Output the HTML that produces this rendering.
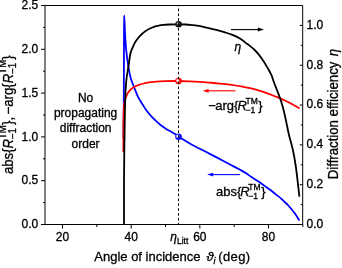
<!DOCTYPE html>
<html><head><meta charset="utf-8"><style>
html,body{margin:0;padding:0;background:#fff;width:342px;height:268px;overflow:hidden}
svg{display:block;will-change:transform}
text{font-family:"Liberation Sans",sans-serif;fill:#000;stroke:#000;stroke-width:0.3px}
</style></head><body>
<svg width="342" height="268" viewBox="0 0 342 268" xmlns="http://www.w3.org/2000/svg">
<defs>
<radialGradient id="gk" cx="0.38" cy="0.38" r="0.62"><stop offset="0" stop-color="#e8e8e8"/><stop offset="0.3" stop-color="#333"/><stop offset="1" stop-color="#000"/></radialGradient>
<radialGradient id="gr" cx="0.38" cy="0.42" r="0.62"><stop offset="0" stop-color="#fff"/><stop offset="0.25" stop-color="#fcc"/><stop offset="0.55" stop-color="#f00"/><stop offset="1" stop-color="#f00"/></radialGradient>
<radialGradient id="gb" cx="0.38" cy="0.42" r="0.62"><stop offset="0" stop-color="#fff"/><stop offset="0.25" stop-color="#ccf"/><stop offset="0.55" stop-color="#00f"/><stop offset="1" stop-color="#00f"/></radialGradient>
</defs>
<rect width="342" height="268" fill="#fff"/>
<g fill="none" stroke-linejoin="round" stroke-linecap="butt">
<path d="M123.50,138.00 C123.60,125.33 123.72,114.11 123.80,100.00 C123.90,82.27 123.91,55.59 124.00,40.00 C124.06,30.03 124.01,15.50 124.20,15.50 C124.34,15.50 124.60,23.88 124.80,28.00 C125.00,32.04 125.15,36.18 125.40,40.00 C125.63,43.49 125.80,46.24 126.20,50.00 C126.71,54.88 127.56,61.78 128.40,66.80 C129.09,70.92 129.85,74.90 130.70,78.00 C131.32,80.27 131.96,81.82 132.70,83.80 C133.49,85.91 134.38,88.08 135.30,90.30 C136.28,92.67 137.19,95.25 138.40,97.60 C139.62,99.95 141.27,102.27 142.60,104.40 C143.79,106.31 144.70,107.99 146.00,109.80 C147.43,111.79 149.23,113.95 150.90,115.80 C152.47,117.53 154.07,119.06 155.70,120.60 C157.30,122.12 158.94,123.67 160.60,125.00 C162.17,126.26 163.77,127.34 165.40,128.40 C167.00,129.44 168.67,130.36 170.30,131.30 C171.90,132.23 173.66,133.09 175.10,134.00 C176.35,134.79 177.20,135.52 178.50,136.40 C180.21,137.56 182.38,138.98 184.50,140.30 C186.82,141.75 189.37,143.31 191.90,144.70 C194.47,146.11 197.17,147.35 199.80,148.70 C202.44,150.05 205.07,151.43 207.70,152.80 C210.33,154.17 212.97,155.53 215.60,156.90 C218.23,158.27 220.87,159.62 223.50,161.00 C226.14,162.39 229.12,164.00 231.40,165.20 C233.14,166.12 234.39,166.75 236.00,167.60 C237.80,168.54 239.90,169.57 241.70,170.60 C243.39,171.57 244.90,172.55 246.50,173.60 C248.14,174.68 249.74,175.89 251.40,177.00 C253.07,178.12 254.77,179.17 256.50,180.30 C258.30,181.47 260.33,182.73 262.00,183.90 C263.46,184.92 264.63,185.90 266.00,186.90 C267.42,187.94 268.90,188.87 270.40,190.00 C272.06,191.25 273.77,192.72 275.50,194.10 C277.27,195.52 279.31,197.02 280.90,198.40 C282.25,199.57 283.29,200.64 284.50,201.80 C285.75,203.00 287.07,204.19 288.30,205.50 C289.57,206.85 290.75,208.24 292.00,209.80 C293.41,211.55 295.02,213.63 296.30,215.50 C297.46,217.19 298.37,218.83 299.40,220.50" stroke="#00f" stroke-width="1.8"/>
<path d="M123.40,152.00 C123.40,146.33 123.37,140.90 123.40,135.00 C123.43,128.60 123.42,120.68 123.60,115.00 C123.74,110.79 123.87,106.68 124.20,104.00 C124.39,102.43 124.60,101.40 124.90,100.30 C125.15,99.37 125.52,98.64 125.80,97.80 C126.08,96.97 126.24,96.15 126.60,95.30 C127.01,94.35 127.55,93.33 128.20,92.40 C128.90,91.40 129.76,90.39 130.70,89.50 C131.68,88.58 132.74,87.73 134.00,87.00 C135.43,86.17 137.25,85.49 138.90,84.90 C140.52,84.33 142.28,83.88 143.80,83.50 C145.11,83.17 146.00,82.95 147.50,82.70 C149.80,82.32 153.37,81.95 156.30,81.70 C159.20,81.45 161.78,81.32 165.00,81.20 C169.01,81.06 174.22,80.97 178.50,81.00 C182.38,81.02 185.96,81.15 189.60,81.30 C193.12,81.45 196.57,81.66 200.00,81.90 C203.37,82.13 206.68,82.42 210.00,82.70 C213.31,82.98 216.46,83.27 219.90,83.60 C223.66,83.96 227.79,84.25 231.70,84.80 C235.62,85.35 240.06,86.27 243.40,86.90 C245.92,87.37 247.86,87.74 250.00,88.20 C252.05,88.64 254.01,89.07 256.00,89.60 C258.01,90.14 259.90,90.69 262.00,91.40 C264.37,92.20 267.19,93.33 269.50,94.20 C271.48,94.95 273.19,95.61 275.00,96.30 C276.76,96.97 278.51,97.59 280.20,98.30 C281.84,98.99 283.42,99.74 285.00,100.50 C286.56,101.25 288.05,101.99 289.60,102.80 C291.22,103.65 292.86,104.57 294.50,105.50 C296.16,106.44 297.83,107.43 299.50,108.40" stroke="#f00" stroke-width="1.8"/>
<path d="M124.00,224.50 C124.00,211.33 123.95,197.77 124.00,185.00 C124.05,172.98 124.17,160.69 124.30,150.00 C124.41,140.97 124.57,132.53 124.70,125.00 C124.80,118.79 124.85,113.75 125.00,108.00 C125.15,102.09 125.29,95.39 125.60,90.00 C125.86,85.59 126.12,81.92 126.60,78.00 C127.06,74.19 127.76,70.76 128.40,66.80 C129.12,62.32 129.70,56.19 130.70,52.50 C131.36,50.06 132.20,48.42 133.00,46.60 C133.71,44.98 134.31,43.57 135.20,42.10 C136.15,40.53 137.43,38.90 138.60,37.50 C139.67,36.22 140.75,35.05 141.90,34.00 C142.99,33.00 144.09,32.15 145.30,31.30 C146.58,30.41 147.97,29.54 149.40,28.80 C150.86,28.04 152.44,27.34 154.00,26.80 C155.54,26.27 157.13,25.92 158.70,25.60 C160.26,25.29 161.75,25.08 163.40,24.90 C165.23,24.70 167.04,24.60 169.20,24.50 C171.91,24.38 175.48,24.29 178.40,24.30 C181.05,24.31 183.87,24.39 186.00,24.50 C187.55,24.58 188.41,24.64 190.00,24.80 C192.36,25.04 195.89,25.40 198.80,25.90 C201.72,26.40 204.59,27.14 207.50,27.80 C210.43,28.47 213.37,29.14 216.30,29.90 C219.24,30.67 222.30,31.53 225.10,32.40 C227.68,33.20 230.07,33.89 232.50,34.90 C235.00,35.94 237.49,37.13 239.90,38.60 C242.46,40.16 245.55,42.74 247.40,44.10 C248.49,44.90 249.02,45.23 250.00,46.00 C251.35,47.07 253.22,48.54 254.70,50.00 C256.22,51.50 257.60,53.15 259.00,54.90 C260.50,56.77 261.97,58.75 263.40,60.90 C264.95,63.23 266.52,65.96 267.90,68.40 C269.17,70.65 270.39,72.69 271.40,75.00 C272.44,77.38 273.08,80.02 274.00,82.50 C274.92,84.98 275.93,87.39 276.90,89.90 C277.90,92.49 278.97,95.13 279.90,97.80 C280.84,100.49 281.68,103.12 282.50,106.00 C283.39,109.15 284.11,112.13 285.00,116.00 C286.22,121.32 287.60,129.06 289.00,135.00 C290.25,140.31 291.80,144.98 292.90,150.00 C293.99,154.98 294.83,159.99 295.60,165.00 C296.36,169.99 296.88,174.87 297.50,180.00 C298.15,185.39 298.77,191.07 299.40,196.60" stroke="#000" stroke-width="1.8"/>
</g>
<circle cx="178.54" cy="24.3" r="3.3" fill="url(#gk)"/>
<circle cx="178.54" cy="81.1" r="3.3" fill="url(#gr)"/>
<circle cx="178.54" cy="136.7" r="3.3" fill="url(#gb)"/>
<path d="M178.54,5.5V224.5" stroke="#000" stroke-width="1" stroke-dasharray="2.7 2.17" stroke-dashoffset="1.87" fill="none"/>
<path d="M45.0,5.5H302.7V224.5H45.0Z" fill="none" stroke="#000" stroke-width="1"/>
<path d="M41.00,224.50H45.0M41.00,180.70H45.0M41.00,136.90H45.0M41.00,93.10H45.0M41.00,49.30H45.0M41.00,5.50H45.0M43.00,202.60H45.0M43.00,158.80H45.0M43.00,115.00H45.0M43.00,71.20H45.0M43.00,27.40H45.0M62.50,224.5V228.5M131.16,224.5V228.5M199.83,224.5V228.5M268.49,224.5V228.5M96.83,224.5V227.0M165.50,224.5V227.0M234.16,224.5V227.0M302.83,224.5V227.0M299.70,224.50H302.7M299.70,184.68H302.7M299.70,144.86H302.7M299.70,105.05H302.7M299.70,65.23H302.7M299.70,25.41H302.7M300.70,204.59H302.7M300.70,164.77H302.7M300.70,124.95H302.7M300.70,85.14H302.7M300.70,45.32H302.7" fill="none" stroke="#000" stroke-width="1"/>
<!-- arrows -->
<path d="M231,29.6H259" stroke="#000" stroke-width="1.1"/><path d="M264,29.6L257.8,27.6L257.8,31.6Z" fill="#000"/>
<path d="M208,90.8H235.5" stroke="#f00" stroke-width="1.1"/><path d="M202.6,90.8L208.6,88.9L208.6,92.7Z" fill="#f00"/>
<path d="M212,174.6H240" stroke="#00f" stroke-width="1.1"/><path d="M207.1,174.6L213.1,172.7L213.1,176.5Z" fill="#00f"/>
<!-- tick labels -->
<text transform="translate(38.20,9.10) scale(1,1.04)" font-size="12" text-anchor="end">2.5</text>
<text transform="translate(38.20,52.90) scale(1,1.04)" font-size="12" text-anchor="end">2.0</text>
<text transform="translate(38.20,96.70) scale(1,1.04)" font-size="12" text-anchor="end">1.5</text>
<text transform="translate(38.20,140.50) scale(1,1.04)" font-size="12" text-anchor="end">1.0</text>
<text transform="translate(38.20,184.30) scale(1,1.04)" font-size="12" text-anchor="end">0.5</text>
<text transform="translate(38.20,228.10) scale(1,1.04)" font-size="12" text-anchor="end">0.0</text>
<text transform="translate(306.50,28.81) scale(1,1.04)" font-size="12">1.0</text>
<text transform="translate(306.50,68.63) scale(1,1.04)" font-size="12">0.8</text>
<text transform="translate(306.50,108.45) scale(1,1.04)" font-size="12">0.6</text>
<text transform="translate(306.50,148.26) scale(1,1.04)" font-size="12">0.4</text>
<text transform="translate(306.50,188.08) scale(1,1.04)" font-size="12">0.2</text>
<text transform="translate(306.50,227.90) scale(1,1.04)" font-size="12">0.0</text>
<text transform="translate(62.50,241.20) scale(1,1.04)" font-size="12" text-anchor="middle">20</text>
<text transform="translate(131.16,241.20) scale(1,1.04)" font-size="12" text-anchor="middle">40</text>
<text transform="translate(199.83,241.20) scale(1,1.04)" font-size="12" text-anchor="middle">60</text>
<text transform="translate(268.49,241.20) scale(1,1.04)" font-size="12" text-anchor="middle">80</text>
<text transform="translate(170.30,240.50) scale(1,1.04)" font-size="12"><tspan font-style="italic">η</tspan><tspan font-size="8.5" dy="3.0">Litt</tspan></text>
<text transform="translate(94.30,261.10) scale(1,1.04)" font-size="13">Angle of incidence <tspan font-style="italic" dx="2.4">ϑ</tspan><tspan font-size="9" font-style="italic" dy="2.5">i</tspan><tspan dx="-1.4" dy="-2.5" letter-spacing="0.4"> (deg)</tspan></text>
<text transform="translate(12.60,174.10) rotate(-90) scale(1,1.04)" font-size="13.2">abs{<tspan font-style="italic" dx="0">R</tspan><tspan font-size="9.8" dx="-0.2" dy="3.1">−1</tspan><tspan font-size="9.8" dx="-11.17" dy="-9.70">TM</tspan><tspan dx="0.0" dy="6.60">}</tspan>, <tspan dx="-1.3">−arg{</tspan><tspan font-style="italic" dx="0.2">R</tspan><tspan font-size="9.8" dx="-0.2" dy="3.1">−1</tspan><tspan font-size="9.8" dx="-11.17" dy="-9.70">TM</tspan><tspan dx="0.0" dy="6.60">}</tspan></text>
<text transform="translate(338.40,179.20) rotate(-90) scale(1,1.04)" font-size="13.2">Diffraction efficiency <tspan font-style="italic" dx="1.8">η</tspan></text>
<text transform="translate(85.60,101.80) scale(1,1.04)" font-size="12" text-anchor="middle">No</text>
<text transform="translate(85.60,117.10) scale(1,1.04)" font-size="12" text-anchor="middle">propagating</text>
<text transform="translate(85.60,132.40) scale(1,1.04)" font-size="12" text-anchor="middle">diffraction</text>
<text transform="translate(85.60,147.70) scale(1,1.04)" font-size="12" text-anchor="middle">order</text>
<text transform="translate(234.50,51.00) scale(1,1.04)" font-size="12" font-style="italic">η</text>
<text transform="translate(208.60,110.20) scale(1,1.04)" font-size="13">−<tspan dx="-0.9">arg{</tspan><tspan font-style="italic" dx="-1.0">R</tspan><tspan font-size="8.5" dx="-1.3" dy="3.1">−1</tspan><tspan font-size="8.5" dx="-9.69" dy="-8.70">TM</tspan><tspan dx="0.6" dy="5.60">}</tspan></text>
<text transform="translate(216.00,195.50) scale(1,1.04)" font-size="13">abs{<tspan font-style="italic" dx="-1.0">R</tspan><tspan font-size="8.5" dx="-1.3" dy="3.1">−1</tspan><tspan font-size="8.5" dx="-9.69" dy="-8.70">TM</tspan><tspan dx="0.6" dy="5.60">}</tspan></text>
</svg>
</body></html>
